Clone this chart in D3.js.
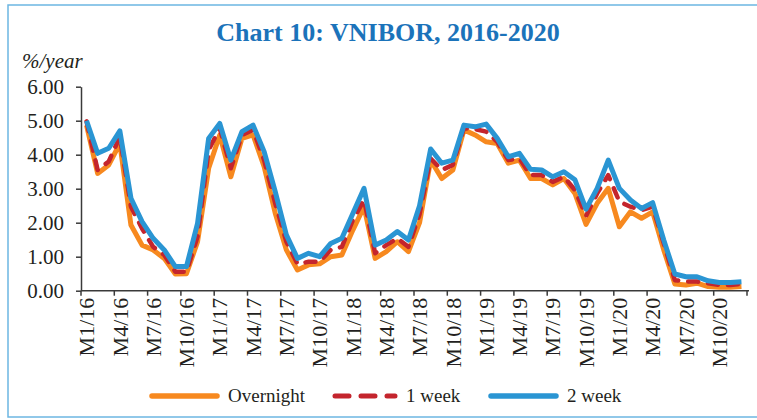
<!DOCTYPE html>
<html>
<head>
<meta charset="utf-8">
<script src="https://cdn.jsdelivr.net/npm/d3@7"></script>
<style>
  body { margin: 0; background: #fff; }
  svg text { font-family: "Liberation Serif", "Times New Roman", serif; fill: #231f20; }
</style>
</head>
<body>
<div class="vnibor-figure"></div>
<script>
// months M1/16 .. M12/20
let years = ["16", "17", "18", "19", "20"];
let months = [];
years.forEach(y => { for (let m = 1; m <= 12; m++) months.push("M" + m + "/" + y); });

let overnight = [4.87, 3.45, 3.70, 4.33, 1.93, 1.34, 1.20, 0.95, 0.49, 0.50, 1.44, 3.60,
  4.58, 3.35, 4.48, 4.58, 3.65, 2.28, 1.20, 0.61, 0.76, 0.79, 1.00, 1.05,
  1.79, 2.47, 0.95, 1.15, 1.44, 1.15, 2.00, 3.84, 3.30, 3.55, 4.73, 4.58,
  4.38, 4.33, 3.75, 3.84, 3.30, 3.30, 3.11, 3.30, 2.86, 1.95, 2.57, 3.01,
  1.88, 2.32, 2.13, 2.32, 1.20, 0.20, 0.17, 0.22, 0.12, 0.10, 0.10, 0.12];

let oneWeek = [4.98, 3.55, 3.80, 4.53, 2.47, 1.83, 1.29, 1.05, 0.56, 0.56, 1.59, 4.14,
  4.78, 3.60, 4.58, 4.73, 3.84, 2.57, 1.44, 0.79, 0.85, 0.85, 1.20, 1.29,
  2.08, 2.67, 1.10, 1.34, 1.54, 1.29, 2.25, 3.89, 3.55, 3.70, 4.78, 4.75,
  4.68, 4.38, 3.84, 3.89, 3.40, 3.40, 3.20, 3.35, 2.96, 2.20, 2.86, 3.40,
  2.62, 2.47, 2.37, 2.47, 1.39, 0.31, 0.27, 0.27, 0.22, 0.17, 0.17, 0.20];

let twoWeek = [5.00, 4.04, 4.19, 4.70, 2.72, 2.03, 1.54, 1.20, 0.71, 0.71, 1.98, 4.48,
  4.92, 3.84, 4.68, 4.87, 4.09, 2.91, 1.64, 0.95, 1.10, 1.00, 1.39, 1.54,
  2.28, 3.01, 1.34, 1.49, 1.74, 1.49, 2.50, 4.17, 3.75, 3.84, 4.87, 4.82,
  4.90, 4.48, 3.94, 4.04, 3.57, 3.55, 3.35, 3.50, 3.26, 2.40, 3.01, 3.84,
  3.01, 2.67, 2.42, 2.59, 1.49, 0.49, 0.41, 0.41, 0.29, 0.24, 0.24, 0.26];

let yTicks = [0, 1, 2, 3, 4, 5, 6];

let series = [
  {name: "Overnight", values: overnight, color: "#f7891f", dash: null, width: 5, cap: "butt"},
  {name: "1 week", values: oneWeek, color: "#c4252d", dash: "10,10", width: 4.5, cap: "round"},
  {name: "2 week", values: twoWeek, color: "#2a95d3", dash: null, width: 5, cap: "butt"}
];

let W = 757, H = 420;

let svg = d3.select(".vnibor-figure")
  .append("svg")
  .attr("width", W)
  .attr("height", H);

// frame
svg.append("rect")
  .attr("x", 8).attr("y", 5)
  .attr("width", 800).attr("height", 412)
  .attr("fill", "none")
  .attr("stroke", "#6cb6e2")
  .attr("stroke-width", 1.5);

// title
svg.append("text")
  .attr("x", 388).attr("y", 41)
  .attr("text-anchor", "middle")
  .style("font-size", "26px")
  .style("font-weight", "bold")
  .style("fill", "#1b73ba")
  .text("Chart 10: VNIBOR, 2016-2020");

svg.append("text")
  .attr("x", 22).attr("y", 68)
  .style("font-size", "21px")
  .style("font-style", "italic")
  .text("%/year");

let x = d3.scaleBand()
  .domain(months)
  .range([81, 747])
  .padding(0);

let y = d3.scaleLinear()
  .domain([0, 6])
  .range([290.7, 86.7]);

let cx = d => x(d) + x.bandwidth() / 2;

// y axis
let yAxis = svg.append("g")
  .attr("transform", "translate(81,0)")
  .call(d3.axisLeft(y).tickValues(yTicks).tickFormat(d3.format(".2f"))
    .tickSize(5).tickSizeOuter(0).tickPadding(12));
yAxis.selectAll("text").style("font-size", "21px").attr("fill", "#231f20");
yAxis.selectAll("line, path").attr("stroke", "#3a3a3a").attr("stroke-width", 1.5);

// x axis: ticks on category boundaries every 3 months, labels at centres
let xg = svg.append("g").attr("transform", "translate(0," + y(0) + ")");
xg.append("line")
  .attr("x1", 81).attr("x2", 749)
  .attr("y1", 0).attr("y2", 0)
  .attr("stroke", "#3a3a3a").attr("stroke-width", 1.5);

let tickPos = months.filter((d, i) => i % 3 == 0).map(d => x(d));
tickPos.push(x(months[months.length - 1]) + x.bandwidth());
xg.selectAll(".tk")
  .data(tickPos)
  .enter().append("line")
  .attr("x1", d => d).attr("x2", d => d)
  .attr("y1", 0).attr("y2", 5)
  .attr("stroke", "#3a3a3a").attr("stroke-width", 1.5);

xg.selectAll(".lbl")
  .data(months.filter((d, i) => i % 3 == 0))
  .enter().append("text")
  .attr("transform", d => "translate(" + cx(d) + ",7) rotate(-90)")
  .attr("text-anchor", "end")
  .attr("dy", "0.35em")
  .style("font-size", "22px")
  .text(d => d);

// lines
let line = d3.line()
  .x((v, i) => cx(months[i]))
  .y(v => y(v));

series.forEach(s => {
  svg.append("path")
    .datum(s.values)
    .attr("d", line)
    .attr("fill", "none")
    .attr("stroke", s.color)
    .attr("stroke-width", s.width)
    .attr("stroke-linejoin", "round")
    .attr("stroke-linecap", s.cap)
    .attr("stroke-dasharray", s.dash);
});

// legend
let legX = [152, 335, 491];
let legLen = [65, 60, 65];
let leg = svg.append("g").selectAll("g")
  .data(series)
  .enter().append("g")
  .attr("transform", (d, i) => "translate(" + legX[i] + ",396)");
leg.append("line")
  .attr("x1", 0).attr("x2", (d, i) => legLen[i])
  .attr("stroke", d => d.color)
  .attr("stroke-width", d => d.width + 0.5)
  .attr("stroke-linecap", "round")
  .attr("stroke-dasharray", (d, i) => i == 1 ? "14,12" : null);
leg.append("text")
  .attr("x", (d, i) => i == 1 ? 71 : 76)
  .attr("dy", "0.33em")
  .style("font-size", "19px")
  .text(d => d.name);
</script>
</body>
</html>
